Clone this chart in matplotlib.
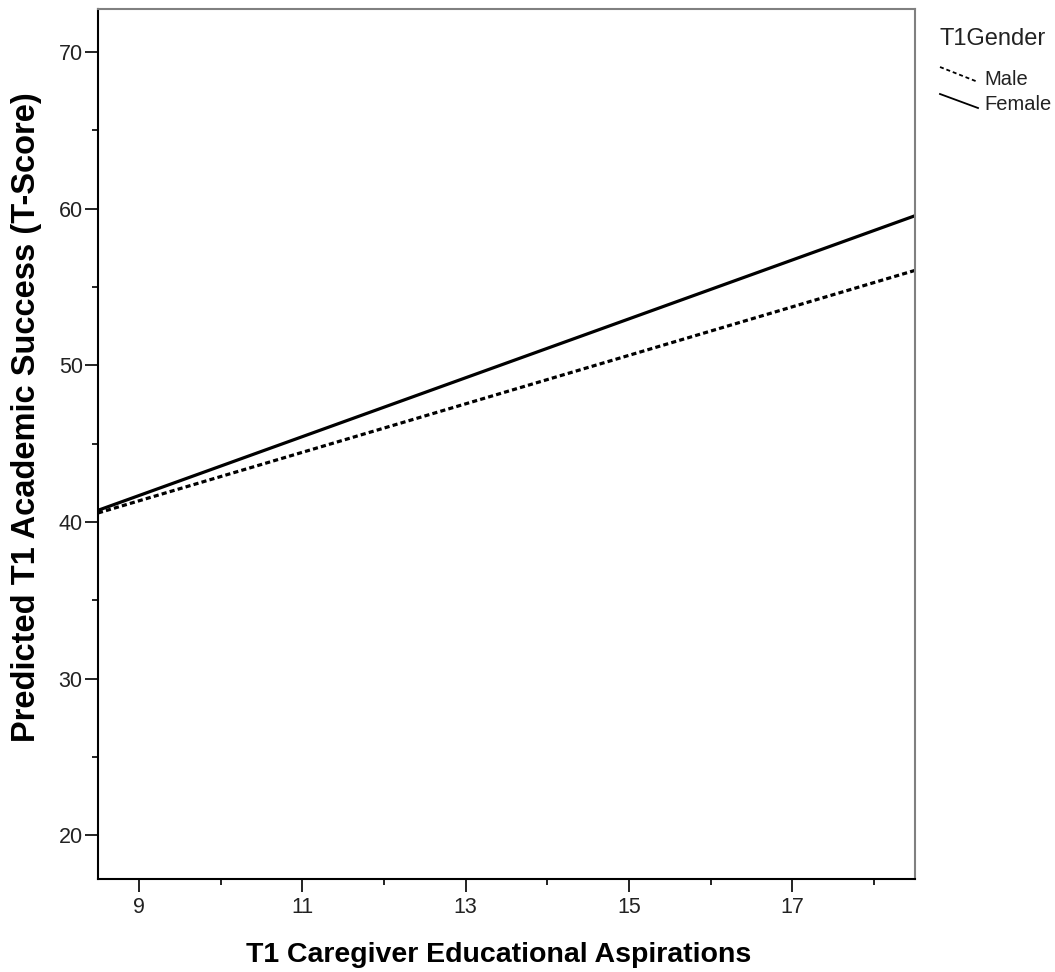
import matplotlib
matplotlib.use("Agg")
import matplotlib.pyplot as plt
from matplotlib.lines import Line2D
from matplotlib.ticker import FixedLocator

plt.rcParams['font.family'] = ['Liberation Sans', 'DejaVu Sans']

# Predicted values at the ends of the aspiration range
aspirations = [8.5, 18.5]
male_pred = [40.57, 56.06]
female_pred = [40.74, 59.55]
series_names = ["Male", "Female"]
legend_title = "T1Gender"
x_ticks = [9, 11, 13, 15, 17]
x_minor = [10, 12, 14, 16, 18]
y_ticks = [20, 30, 40, 50, 60, 70]
y_minor = [25, 35, 45, 55, 65]

W, H = 1055, 972
fig = plt.figure(figsize=(W / 100, H / 100), dpi=100)
ax = fig.add_axes([98 / W, 1 - 879 / H, (915 - 98) / W, (879 - 9) / H])

male_style = dict(color="black", lw=2.3, dashes=(1.6, 1.0))
female_style = dict(color="black", lw=2.3, linestyle="-")

ax.plot(aspirations, male_pred, **male_style, solid_capstyle="butt")
ax.plot(aspirations, female_pred, **female_style, solid_capstyle="butt")

ax.set_xlim(8.5, 18.5)
ax.set_ylim(17.2, 72.75)
ax.set_xticks(x_ticks)
ax.set_yticks(y_ticks)
ax.xaxis.set_minor_locator(FixedLocator(x_minor))
ax.yaxis.set_minor_locator(FixedLocator(y_minor))

ax.tick_params(which="major", direction="out", length=9.5, width=1.4,
               color="#222222", labelsize=15.5, labelcolor="#222222")
ax.tick_params(which="minor", direction="out", length=4.5, width=1.4,
               color="#222222")
ax.tick_params(axis="y", which="major", pad=1.5)
ax.tick_params(axis="x", which="major", pad=3.5)

for side in ("left", "bottom"):
    ax.spines[side].set_color("black")
    ax.spines[side].set_linewidth(1.5)
for side in ("top", "right"):
    ax.spines[side].set_color("#808080")
    ax.spines[side].set_linewidth(1.5)

# Axis titles
fig.text(498.5 / W, 1 - 962 / H, "T1 Caregiver Educational Aspirations",
         fontsize=20.5, fontweight="bold", ha="center", va="baseline")
fig.text(11 / W, 1 - 417 / H, "Predicted T1 Academic Success (T-Score)",
         fontsize=23.5, fontweight="bold", rotation=90,
         ha="left", va="center")

# Legend with slanted line samples
fig.text(939 / W, 1 - 45 / H, legend_title, fontsize=17, color="#222222",
         ha="left", va="baseline")
legend_rows = [
    (series_names[0], male_style, 67, 82, 85),
    (series_names[1], female_style, 94, 108, 110),
]
for name, style, y0, y1, base in legend_rows:
    st = dict(style)
    st["lw"] = 1.3
    if "dashes" in st:
        st["dashes"] = (2.2, 1.6)
    fig.add_artist(Line2D([940 / W, 978 / W], [1 - y0 / H, 1 - y1 / H],
                          transform=fig.transFigure, **st))
    fig.text(984 / W, 1 - base / H, name, fontsize=14.5, color="#222222",
             ha="left", va="baseline")

fig.savefig("out.png", dpi=100)
